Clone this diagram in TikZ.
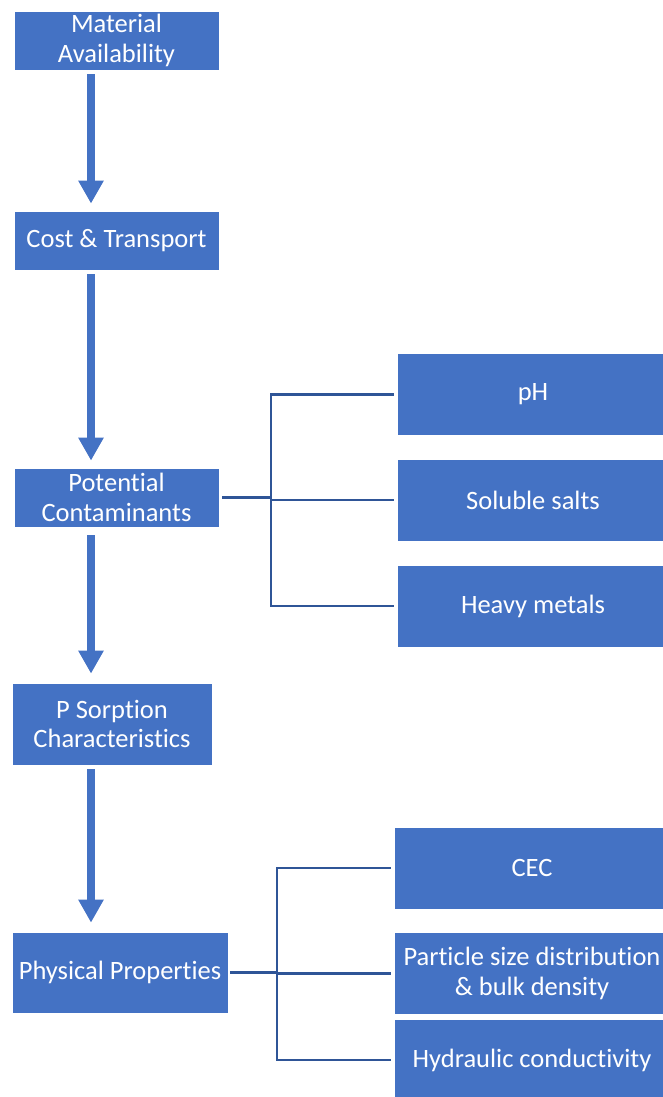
\documentclass[tikz,border=0pt]{standalone}
\usepackage{fontspec}
\setmainfont{Carlito}[Ligatures=NoCommon]
\usepackage{tikz}
\usetikzlibrary{positioning,arrows.meta}
\definecolor{colorbox}  {RGB}{68 ,114,196}
\definecolor{colorlink} {RGB}{47 ,85 ,151}

\begin{document}
\begin{tikzpicture}[
    x=1pt, y=-1pt,
    font={\fontsize{26.5}{29.5}\selectfont},
    base/.style={text=white,fill=colorbox,draw=white,line width=0.8pt,align=center,rectangle,inner sep=0pt},
    stepbox/.style={base,minimum width=205pt,minimum height=59pt},
    leafbox/.style={base,minimum width=272pt,minimum height=82pt},
    flow/.style={-{Triangle[width=24pt,length=23pt]},line width=8pt,draw=colorbox,shorten <=4pt,shorten >=7pt},
    link/.style={line width=2.4pt,draw=colorlink,shorten <=3pt},
]

    \useasboundingbox (0,0) rectangle (662,1097);

    % Main column
    \node[stepbox] (matavail) at (116.5,40.5)  {Material\\Availability};
    \node[stepbox] (cost)     at (116.5,240.5) {Cost \& Transport};
    \node[stepbox] (contam)   at (116.5,497.5) {Potential\\Contaminants};
    \node[stepbox,minimum width=200pt,minimum height=82pt] (psorp) at (112,724)   {P Sorption\\Characteristics};
    \node[stepbox,minimum width=216pt,minimum height=81pt] (phys)  at (120,972.5) {Physical Properties};

    % Contaminant boxes
    \node[leafbox] (ph)     at (533,394.5) {pH};
    \node[leafbox] (salts)  at (533,500)   {Soluble salts};
    \node[leafbox] (metals) at (533,606)   {Heavy metals};

    % Property boxes
    \node[leafbox,minimum width=276pt] (cec)       at (532,868)    {CEC};
    \node[leafbox,minimum width=276pt] (particle)  at (532,973.5)  {Particle size distribution\\\& bulk density};
    \node[leafbox,minimum width=276pt] (hydraulic) at (532,1060)   {Hydraulic conductivity};

    % Arrows
    \coordinate (spine) at (91,0);
    \draw[flow] (matavail.south -| spine) -- (cost.north -| spine);
    \draw[flow] (cost.south -| spine)     -- (contam.north -| spine);
    \draw[flow,shorten <=8pt,shorten >=9pt] (contam.south -| spine) -- (psorp.north -| spine);
    \draw[flow,shorten >=9pt] (psorp.south -| spine) -- (phys.north -| spine);

    % Brackets
    \coordinate (forkcontam) at (271,498);
    \draw[link] (contam.east) -- (contam.east -| forkcontam);
    \draw[link] (ph.west) -| (forkcontam);
    \draw[link] (metals.west) -| (forkcontam);
    \draw[link] (salts.west) -- (salts.west -| forkcontam);

    \coordinate (forkphys) at (277,974);
    \draw[link,shorten <=2pt] (phys.east) -- (phys.east -| forkphys);
    \draw[link] (cec.west) -| (forkphys);
    \draw[link] (hydraulic.west) -| (forkphys);
    \draw[link] (particle.west) -- (particle.west -| forkphys);

\end{tikzpicture}
\end{document}
